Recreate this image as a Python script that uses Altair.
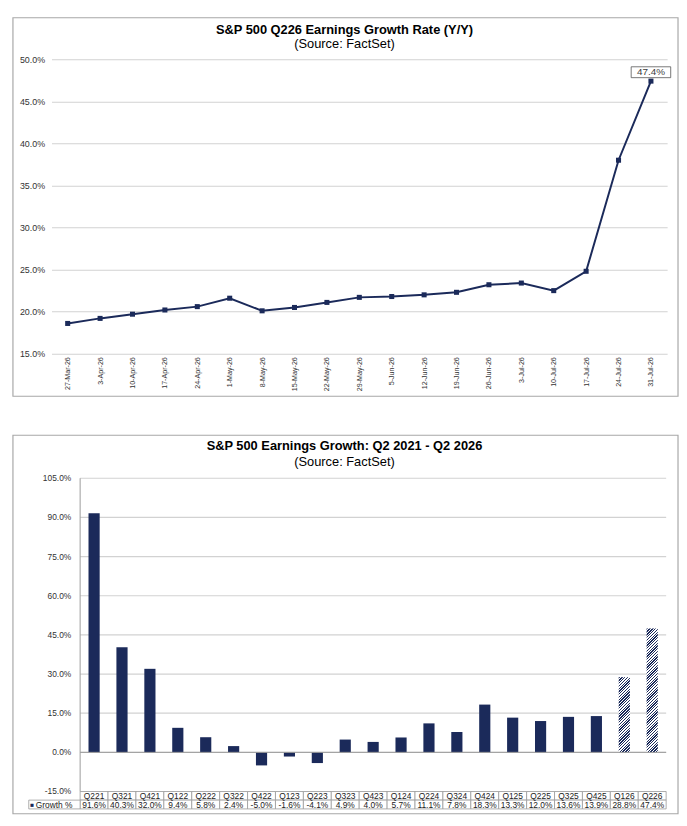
import altair as alt
import pandas as pd

# ---------------- data ----------------
dates = ["27-Mar-26", "3-Apr-26", "10-Apr-26", "17-Apr-26", "24-Apr-26", "1-May-26",
         "8-May-26", "15-May-26", "22-May-26", "29-May-26", "5-Jun-26", "12-Jun-26",
         "19-Jun-26", "26-Jun-26", "3-Jul-26", "10-Jul-26", "17-Jul-26", "24-Jul-26",
         "31-Jul-26"]
rates = [18.6, 19.2, 19.7, 20.2, 20.6, 21.6, 20.1, 20.5, 21.1, 21.7, 21.8, 22.0,
         22.3, 23.2, 23.4, 22.5, 24.8, 38.0, 47.4]

quarters = ["Q221", "Q321", "Q421", "Q122", "Q222", "Q322", "Q422", "Q123", "Q223",
            "Q323", "Q423", "Q124", "Q224", "Q324", "Q424", "Q125", "Q225", "Q325",
            "Q425", "Q126", "Q226"]
growth = [91.6, 40.3, 32.0, 9.4, 5.8, 2.4, -5.0, -1.6, -4.1, 4.9, 4.0, 5.7, 11.1,
          7.8, 18.3, 13.3, 12.0, 13.6, 13.9, 28.8, 47.4]
estimate_quarters = ["Q126", "Q226"]

y1_ticks = [15, 20, 25, 30, 35, 40, 45, 50]
y2_ticks = [-15, 0, 15, 30, 45, 60, 75, 90, 105]

title1 = "S&P 500 Q226 Earnings Growth  Rate (Y/Y)"
title2 = "S&P 500 Earnings Growth: Q2 2021 - Q2 2026"
subtitle = "(Source: FactSet)"
legend_label = "Growth %"

# ---------------- style ----------------
NAVY = "#1b2a5a"
FONT = "Liberation Sans"
GRID = "#d2d2d2"
FRAME = "#a8a8a8"
TXT = "#333333"
pct = "format(datum.value, '.1f') + '%'"
W = 623          # common plot width (both panels share the same origin)
CX = 296.5       # title centre, relative to plot origin

one = alt.Data(values=[{"a": 1}])

# ================= top panel: line chart =================
H1 = 298
line_df = pd.DataFrame({"date": dates, "rate": rates})
line_df["label"] = line_df["rate"].map(lambda v: f"{v:.1f}%")

x1 = alt.X("date:N", sort=dates, scale=alt.Scale(type="point", padding=0.5),
           axis=alt.Axis(title=None, labelAngle=270, labelFontSize=7.2, labelColor=TXT,
                         labelFont=FONT, ticks=False, domain=False, labelPadding=3,
                         grid=False, labelOverlap=False))
y1 = alt.Y("rate:Q", scale=alt.Scale(domain=[15, 50], nice=False, zero=False),
           axis=alt.Axis(title=None, values=y1_ticks, labelExpr=pct, labelFontSize=9,
                         labelColor=TXT, labelFont=FONT, ticks=False, domain=False,
                         labelPadding=7, gridColor=GRID, gridWidth=1.2,
                         labelOverlap=False))

frame1 = alt.Chart(one).mark_rect(fillOpacity=0, stroke=FRAME, strokeWidth=1.2).encode(
    x=alt.value(-39), x2=alt.value(634), y=alt.value(-42), y2=alt.value(H1 + 43))
t1 = alt.Chart(one).mark_text(text=title1, font=FONT, fontSize=13, fontWeight="bold",
                              color="black", align="center", baseline="middle").encode(
    x=alt.value(CX), y=alt.value(-30))
s1 = alt.Chart(one).mark_text(text=subtitle, font=FONT, fontSize=13, color="black",
                              align="center", baseline="middle").encode(
    x=alt.value(CX), y=alt.value(-15))

line = alt.Chart(line_df).mark_line(color=NAVY, strokeWidth=2).encode(x=x1, y=y1)
pts = alt.Chart(line_df).mark_point(shape="square", size=26, filled=True, color=NAVY,
                                    opacity=1).encode(x=x1, y=y1)
last = alt.Chart(line_df).transform_filter(alt.datum.date == dates[-1])
box = last.mark_point(shape="M-1,-0.275L1,-0.275L1,0.275L-1,0.275Z", size=1600,
                      filled=False, fill="white", fillOpacity=1, stroke="#555555",
                      strokeWidth=0.8, opacity=1, yOffset=-9).encode(x=x1, y=y1)
lab = last.mark_text(font=FONT, fontSize=10, color="#404040", dy=-9,
                     baseline="middle").encode(x=x1, y=y1, text="label:N")

top = alt.layer(frame1, t1, s1, line, pts, box, lab).properties(width=W, height=H1)

# ================= bottom panel: bar chart + data table =================
H2 = 317
L2, R2X = 29, 622   # plot left / right edge inside the common width
bar_df = pd.DataFrame({"g": growth, "q": quarters})
bar_df["label"] = bar_df["g"].map(lambda v: f"{v:.1f}%")
bar_df["est"] = bar_df["q"].isin(estimate_quarters)
tick_df = pd.DataFrame({"g": y2_ticks})
tick_df["label"] = tick_df["g"].map(lambda v: f"{v:.1f}%")

xq = alt.X("q:N", sort=quarters,
           scale=alt.Scale(paddingInner=0, paddingOuter=0, range=[L2, R2X]), axis=None)
yscale2 = alt.Scale(domain=[-15, 105], nice=False)
yg = alt.Y("g:Q", scale=yscale2, axis=None)

frame2 = alt.Chart(one).mark_rect(fillOpacity=0, stroke=FRAME, strokeWidth=1.2).encode(
    x=alt.value(-39), x2=alt.value(634), y=alt.value(-43.5), y2=alt.value(H2 + 22.5))
t2 = alt.Chart(one).mark_text(text=title2, font=FONT, fontSize=13, fontWeight="bold",
                              color="black", align="center", baseline="middle").encode(
    x=alt.value(CX), y=alt.value(-32.5))
s2 = alt.Chart(one).mark_text(text=subtitle, font=FONT, fontSize=13, color="black",
                              align="center", baseline="middle").encode(
    x=alt.value(CX), y=alt.value(-16.5))

grid2 = alt.Chart(tick_df).mark_rule(color=GRID, strokeWidth=1.2).encode(
    y=yg, x=alt.value(L2), x2=alt.value(R2X))
ylab2 = alt.Chart(tick_df).mark_text(font=FONT, fontSize=8.5, color=TXT, align="right",
                                     baseline="middle").encode(
    y=yg, x=alt.value(L2 - 9), text="label:N")
ydom2 = alt.Chart(one).mark_rule(color="#9a9a9a", strokeWidth=1).encode(
    x=alt.value(L2), y=alt.datum(-15, scale=yscale2), y2=alt.datum(105))

bars = alt.Chart(bar_df).transform_filter("!datum.est").mark_bar(
    color=NAVY, width=alt.RelativeBandSize(0.4)).encode(x=xq, y=yg)

# hatched (estimate) bars: fine diagonal stripes built from a striped gradient
hatch_layers = []
bw = 0.4 * (R2X - L2) / len(quarters)
for q, g in zip(quarters, growth):
    if q not in estimate_quarters:
        continue
    h = g / 120.0 * H2
    a = h / bw
    s = (1 + a) / (1 + a * a)
    n = max(4, int(round((bw + h) / 2.8)))
    stops = []
    for k in range(n):
        stops += [alt.GradientStop(color=NAVY, offset=k / n),
                  alt.GradientStop(color=NAVY, offset=(k + 0.5) / n),
                  alt.GradientStop(color="#ffffff", offset=(k + 0.5) / n),
                  alt.GradientStop(color="#ffffff", offset=(k + 1) / n)]
    grad = alt.LinearGradient(gradient="linear", stops=stops, x1=0, y1=0, x2=s, y2=s * a)
    hatch_layers.append(
        alt.Chart(bar_df).transform_filter(alt.datum.q == q).mark_bar(
            color=grad, width=alt.RelativeBandSize(0.4)).encode(x=xq, y=yg))

zero = alt.Chart(one).mark_rule(color="#9a9a9a", strokeWidth=1).encode(
    y=alt.datum(0), x=alt.value(L2), x2=alt.value(R2X))

# data table below the plot
R1, RM, R3 = H2, H2 + 8.7, H2 + 17.6
cells1 = alt.Chart(bar_df).mark_rect(fill="white", stroke="#9a9a9a", strokeWidth=0.8).encode(
    x=xq, y=alt.value(R1), y2=alt.value(RM))
cells2 = alt.Chart(bar_df).mark_rect(fill="white", stroke="#9a9a9a", strokeWidth=0.8).encode(
    x=xq, y=alt.value(RM), y2=alt.value(R3))
cat_txt = alt.Chart(bar_df).mark_text(font=FONT, fontSize=8.5, color="#222222",
                                      baseline="middle").encode(
    x=xq, y=alt.value((R1 + RM) / 2 + 0.5), text="q:N")
val_txt = alt.Chart(bar_df).mark_text(font=FONT, fontSize=8.5, color="#222222",
                                      baseline="middle").encode(
    x=xq, y=alt.value((RM + R3) / 2 + 0.5), text="label:N")
head = alt.Chart(one).mark_rect(fill="white", stroke="#9a9a9a", strokeWidth=0.8).encode(
    x=alt.value(L2 - 52), x2=alt.value(L2), y=alt.value(RM), y2=alt.value(R3))
head_sq = alt.Chart(one).mark_text(text="■", font=FONT, fontSize=6.5, color=NAVY,
                                   align="center", baseline="middle").encode(
    x=alt.value(L2 - 48.5), y=alt.value((RM + R3) / 2 + 0.5))
head_txt = alt.Chart(one).mark_text(text=legend_label, font=FONT, fontSize=8.5,
                                    color="#222222", align="left",
                                    baseline="middle").encode(
    x=alt.value(L2 - 45), y=alt.value((RM + R3) / 2 + 0.5))

bottom = alt.layer(frame2, t2, s2, grid2, ylab2, bars, *hatch_layers, zero, ydom2,
                   cells1, cells2, cat_txt, val_txt, head, head_sq,
                   head_txt).properties(width=W, height=H2)

chart = alt.vconcat(top, bottom, spacing=37).properties(
    padding={"left": 4, "top": 4, "right": 0, "bottom": 3},
    background="white",
).configure_view(strokeWidth=0)

chart.save("out.html", embed_options={"renderer": "svg", "actions": False})
